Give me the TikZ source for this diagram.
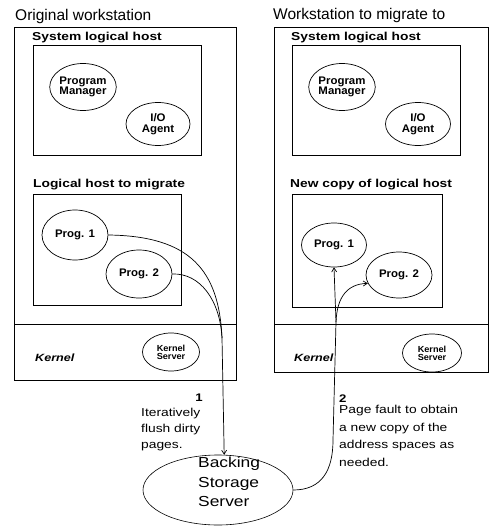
\documentclass[tikz,border=0pt]{standalone}
\usepackage{fontspec}
\setmainfont{Liberation Sans}
\newfontfamily\widesans[FakeStretch=1.2]{Liberation Sans}
\newfontfamily\midsans[FakeStretch=1.04]{Liberation Sans}
\usetikzlibrary{shapes.geometric,arrows.meta}

\tikzset{
  box/.style={draw, line width=0.9pt},
  oval/.style={ellipse, draw, line width=0.7pt, inner sep=0pt, align=center,
               font=\midsans\bfseries\fontsize{11}{10.5}\selectfont},
  smalloval/.style={oval, font=\midsans\bfseries\fontsize{8.8}{8}\selectfont},
  title/.style={anchor=base west, inner sep=0pt, font=\fontsize{15.5}{18}\selectfont},
  hostlabel/.style={anchor=base west, inner sep=0pt,
                    font=\widesans\bfseries\fontsize{11.5}{13}\selectfont},
  kernlabel/.style={anchor=base west, inner sep=0pt,
                    font=\widesans\bfseries\itshape\fontsize{10.5}{12}\selectfont},
  note/.style={inner sep=0pt, align=left, font=\widesans\fontsize{11.5}{16}\selectfont},
  stepno/.style={inner sep=0pt, font=\widesans\bfseries\fontsize{11}{12}\selectfont},
  flow/.style={line width=0.7pt},
  flowarrow/.style={flow, -{Straight Barb[length=4pt,width=5pt]}}
}

\begin{document}
\begin{tikzpicture}[x=1pt,y=-1pt]
\useasboundingbox (0,0) rectangle (491,527);

% ---- original workstation ----
\node[title] (t1) at (15,21) {Original workstation};
\draw[box] (14,27) rectangle (236,380);
\draw[box] (14,324) -- (236,324);
\node[hostlabel] (s1) at (32,41) {System logical host};
\draw[box] (33,45) rectangle (201,155);
\node[oval, minimum width=63pt, minimum height=47pt] (pm1) at (83,87) {Program\\Manager};
\node[oval, minimum width=64pt, minimum height=43pt] (io1) at (158,124) {I/O\\Agent};
\node[hostlabel] (l1) at (33,187) {Logical host to migrate};
\draw[box] (33,194) rectangle (181,305);
\node[oval, minimum width=66pt, minimum height=50pt] (p1) at (75,235) {Prog. 1};
\node[oval, minimum width=66pt, minimum height=48pt] (p2) at (139,274) {Prog. 2};
\node[kernlabel] (k1) at (35,361) {Kernel};
\node[smalloval, minimum width=57pt, minimum height=38pt] (ks1) at (171,352) {Kernel\\Server};

% ---- destination workstation ----
\node[title] (t2) at (273,20) {Workstation to migrate to};
\draw[box] (274,27) rectangle (488,372);
\draw[box] (274,324) -- (488,324);
\node[hostlabel] (s2) at (291,41) {System logical host};
\draw[box] (292,45) rectangle (460,155);
\node[oval, minimum width=61pt, minimum height=47pt] (pm2) at (342,87) {Program\\Manager};
\node[oval, minimum width=65pt, minimum height=43pt] (io2) at (418,124) {I/O\\Agent};
\node[hostlabel] (l2) at (290,187) {New copy of logical host};
\draw[box] (292,194) rectangle (442,307);
\node[oval, minimum width=65pt, minimum height=44pt] (q1) at (334,245) {Prog. 1};
\node[oval, minimum width=66pt, minimum height=46pt] (q2) at (399,275) {Prog. 2};
\node[kernlabel] (k2) at (294,361) {Kernel};
\node[smalloval, minimum width=59pt, minimum height=38pt] (ks2) at (432,353) {Kernel\\Server};

% ---- backing storage server ----
\node[ellipse, draw, line width=0.6pt, minimum width=150pt, minimum height=70pt] (bss) at (218,490) {};
\node[inner sep=0pt, align=left, anchor=north west,
      font=\widesans\fontsize{14.5}{19.5}\selectfont] (bsstext) at (198,457) {Backing\\Storage\\Server};

% ---- step 1: flush dirty pages ----
\coordinate (m1) at (222,338);
\draw[flow] (p1.east) .. controls (190,236) and (219,270) .. (m1);
\draw[flow] (p2.east) .. controls (200,273) and (220,300) .. (m1);
\draw[flowarrow] (m1) -- (bss.80);
\node[stepno, anchor=base east] (n1) at (203,401) {1};
\node[note, anchor=north west] (d1) at (141,408) {Iteratively\\flush dirty\\pages.};

% ---- step 2: page faults ----
\coordinate (m2) at (336,322);
\draw[flow] (bss.east) .. controls (322,490) and (333,470) .. (333,440) -- (m2);
\draw[flowarrow] (m2) -- (q1.south);
\draw[flowarrow] (m2) .. controls (337,296) and (348,284) .. (q2.195);
\node[stepno, anchor=base west] (n2) at (339,402) {2};
\node[note, anchor=north west, font=\widesans\fontsize{11.5}{17.5}\selectfont] (d2) at (339,405) {Page fault to obtain\\a new copy of the\\address spaces as\\needed.};
\end{tikzpicture}
\end{document}
